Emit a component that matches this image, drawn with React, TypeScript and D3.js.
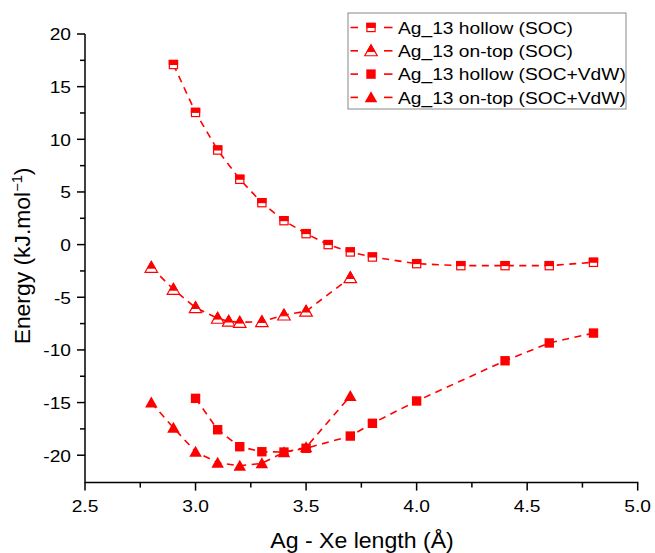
import React from "react";
import * as d3 from "d3";

const hollowSocX = [2.9, 3.0, 3.1, 3.2, 3.3, 3.4, 3.5, 3.6, 3.7, 3.8, 4.0, 4.2, 4.4, 4.6, 4.8];
const hollowSocY = [17.1, 12.55, 8.98, 6.2, 3.98, 2.27, 1.04, 0.0, -0.7, -1.18, -1.81, -2.0, -2.0, -2.0, -1.68];

const ontopSocX = [2.8, 2.9, 3.0, 3.1, 3.15, 3.2, 3.3, 3.4, 3.5, 3.7];
const ontopSocY = [-2.16, -4.25, -5.99, -7.0, -7.28, -7.38, -7.32, -6.69, -6.33, -3.14];

const hollowVdwX = [3.0, 3.1, 3.2, 3.3, 3.4, 3.5, 3.7, 3.8, 4.0, 4.4, 4.6, 4.8];
const hollowVdwY = [-14.6, -17.58, -19.19, -19.67, -19.7, -19.34, -18.18, -16.97, -14.85, -11.03, -9.34, -8.4];

const ontopVdwX = [2.8, 2.9, 3.0, 3.1, 3.2, 3.3, 3.4, 3.5, 3.7];
const ontopVdwY = [-15.01, -17.39, -19.67, -20.71, -21.0, -20.77, -19.72, -19.25, -14.38];

const seriesNames = [
  "Ag_13 hollow (SOC)",
  "Ag_13 on-top (SOC)",
  "Ag_13 hollow (SOC+VdW)",
  "Ag_13 on-top (SOC+VdW)",
];

const xTicks = [2.5, 3.0, 3.5, 4.0, 4.5, 5.0];
const yTicks = [-20, -15, -10, -5, 0, 5, 10, 15, 20];

const RED = "#ff0000";
const FONT = "'Liberation Sans', Arial, sans-serif";
const STRETCH = 1.13;

type Kind = "halfSquare" | "halfTri" | "square" | "tri";

function SText({
  x, y, size, anchor = "start", sx = STRETCH, rot = 0, children,
}: {
  x: number; y: number; size: number; anchor?: string; sx?: number; rot?: number; children: React.ReactNode;
}) {
  return (
    <text
      transform={`translate(${x},${y}) rotate(${rot}) scale(${sx},1)`}
      fontSize={size}
      textAnchor={anchor as any}
      fill="#000"
    >
      {children}
    </text>
  );
}

function Marker({ kind, cx, cy }: { kind: Kind; cx: number; cy: number }) {
  const s = 9.4;
  if (kind === "square")
    return <rect x={cx - s / 2} y={cy - s / 2} width={s} height={s} fill={RED} />;
  if (kind === "halfSquare")
    return (
      <g>
        <rect x={cx - s / 2 + 0.6} y={cy - s / 2 + 0.6} width={s - 1.2} height={s - 1.2} fill="#fff" stroke={RED} strokeWidth={1.2} />
        <rect x={cx - s / 2} y={cy - s / 2} width={s} height={s * 0.55} fill={RED} />
      </g>
    );
  const w = 12.5, h = 11;
  const top = cy - h * 0.55, bot = cy + h * 0.45;
  const pts = `${cx},${top} ${cx + w / 2},${bot} ${cx - w / 2},${bot}`;
  if (kind === "tri") return <polygon points={pts} fill={RED} />;
  const f = 0.62;
  const mid = top + h * f;
  const half = (w / 2) * f;
  const topPts = `${cx},${top} ${cx + half},${mid} ${cx - half},${mid}`;
  return (
    <g>
      <polygon points={pts} fill="#fff" stroke={RED} strokeWidth={1.2} strokeLinejoin="miter" />
      <polygon points={topPts} fill={RED} stroke={RED} strokeWidth={1} />
    </g>
  );
}

export default function App() {
  const W = 655, H = 553;
  const x = d3.scaleLinear().domain([2.5, 5.0]).range([85, 637.7]);
  const y = d3.scaleLinear().domain([-22.6, 20]).range([482.6, 34]);

  const series: { xs: number[]; ys: number[]; kind: Kind }[] = [
    { xs: hollowSocX, ys: hollowSocY, kind: "halfSquare" },
    { xs: ontopSocX, ys: ontopSocY, kind: "halfTri" },
    { xs: hollowVdwX, ys: hollowVdwY, kind: "square" },
    { xs: ontopVdwX, ys: ontopVdwY, kind: "tri" },
  ];

  const line = d3
    .line<[number, number]>()
    .x((d) => x(d[0]))
    .y((d) => y(d[1]));

  const xMinor = d3.range(2.5, 5.0001, 0.25);
  const yMinor = d3.range(-20, 20.001, 2.5);
  const y0 = y(-22.6);
  const x0 = x(2.5);

  const legendX = 348, legendY = 13, legendW = 278, legendH = 96;
  const rowH = 23.3;

  return (
    <svg width={W} height={H} style={{ position: "absolute", left: 0, top: 0, background: "#fff" }} fontFamily={FONT}>
      <rect width={W} height={H} fill="#fff" />
      {/* axes */}
      <line x1={x0} x2={x(5.0) + 0.7} y1={y0} y2={y0} stroke="#000" strokeWidth={1.5} />
      <line x1={x0} x2={x0} y1={y0 + 0.7} y2={y(20)} stroke="#000" strokeWidth={1.5} />
      {xMinor.map((t, i) => (
        <line key={"xm" + i} x1={x(t)} x2={x(t)} y1={y0} y2={y0 + (i % 2 === 0 ? 8 : 5)} stroke="#000" strokeWidth={1.5} />
      ))}
      {yMinor.map((t, i) => (
        <line key={"ym" + i} x1={x0} x2={x0 - (i % 2 === 0 ? 8 : 5)} y1={y(t)} y2={y(t)} stroke="#000" strokeWidth={1.5} />
      ))}
      {xTicks.map((t) => (
        <SText key={"xt" + t} x={x(t)} y={y0 + 29.5} size={17} anchor="middle">
          {t.toFixed(1)}
        </SText>
      ))}
      {yTicks.map((t) => (
        <SText key={"yt" + t} x={x0 - 14} y={y(t) + 6.4} size={17} anchor="end">
          {t}
        </SText>
      ))}
      <SText x={362} y={548} size={22} anchor="middle" sx={1.05}>
        Ag - Xe length (Å)
      </SText>
      <SText x={30} y={256} size={22} anchor="middle" sx={1.04} rot={-90}>
        Energy (kJ.mol
        <tspan fontSize={14} dy={-8}>−1</tspan>
        <tspan dy={8}>)</tspan>
      </SText>

      {/* series */}
      {series.map((s, si) => (
        <path
          key={"l" + si}
          d={line(s.xs.map((v, i) => [v, s.ys[i]] as [number, number])) || ""}
          fill="none"
          stroke={RED}
          strokeWidth={1.6}
          strokeDasharray="7,5.5"
        />
      ))}
      {series.map((s, si) =>
        s.xs.map((v, i) => <Marker key={`m${si}-${i}`} kind={s.kind} cx={x(v)} cy={y(s.ys[i])} />)
      )}

      {/* legend */}
      <rect x={legendX} y={legendY} width={legendW} height={legendH} fill="#fff" stroke="#888" strokeWidth={1} />
      {seriesNames.map((name, i) => {
        const cy = legendY + 14.5 + i * rowH;
        return (
          <g key={"lg" + i}>
            <line x1={350.5} x2={358} y1={cy} y2={cy} stroke={RED} strokeWidth={1.6} />
            <line x1={384} x2={392.5} y1={cy} y2={cy} stroke={RED} strokeWidth={1.6} />
            <Marker kind={series[i].kind} cx={371} cy={cy} />
            <SText x={398} y={cy + 6.2} size={17}>
              {name}
            </SText>
          </g>
        );
      })}
    </svg>
  );
}
